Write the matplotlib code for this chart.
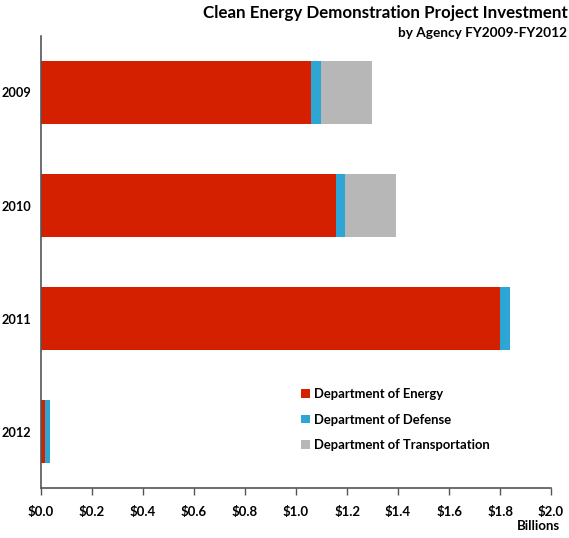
import numpy as np
import matplotlib
matplotlib.use("Agg")
import matplotlib.pyplot as plt

# values in billions
years = ['2009', '2010', '2011', '2012']
energy = [1.06, 1.155, 1.80, 0.016]
defense = [0.036, 0.037, 0.04, 0.02]
transport = [0.20, 0.20, 0.0, 0.0]
xticks = [0.0, 0.2, 0.4, 0.6, 0.8, 1.0, 1.2, 1.4, 1.6, 1.8, 2.0]

plt.rcParams['font.family'] = ['Lato', 'DejaVu Sans']

fig = plt.figure(figsize=(5.69, 5.38), dpi=100)
ax = fig.add_axes([0.0721, 0.0929, 0.8963, 0.8402])

y = np.arange(len(years))
h = 0.56
left2 = np.array(energy)
left3 = left2 + np.array(defense)
ax.barh(y, energy, height=h, color='#d52000', label='Department of Energy')
ax.barh(y, defense, left=left2, height=h, color='#2ea6d5', label='Department of Defense')
ax.barh(y, transport, left=left3, height=h, color='#b7b7b7', label='Department of Transportation')

ax.set_ylim(3.5, -0.5)
ax.set_xlim(0, 2.0)
ax.set_yticks(y)
ax.set_yticklabels(years, fontweight='bold', fontsize=9.2)
ax.tick_params(axis='y', length=0, pad=7)
ax.set_xticks(xticks)
ax.set_xticklabels(['$%.1f' % v for v in xticks], fontweight='bold', fontsize=9.5)
ax.tick_params(axis='x', length=5, width=1, color='#555555', direction='out', pad=8)
for s in ['top', 'right']:
    ax.spines[s].set_visible(False)
for s in ['left', 'bottom']:
    ax.spines[s].set_color('#555555')
    ax.spines[s].set_linewidth(1.2)

fig.text(0.985, 0.012, 'Billions', ha='right', va='bottom', fontweight='bold', fontsize=9.5)

fig.text(0.997, 0.975, 'Clean Energy Demonstration Project Investment', ha='right', va='center',
         fontweight='bold', fontsize=12.2)
fig.text(0.997, 0.938, 'by Agency FY2009-FY2012', ha='right', va='center',
         fontweight='bold', fontsize=9.8)

leg = ax.legend(loc='upper left', bbox_to_anchor=(0.497, 0.236), frameon=False, borderpad=0,
                handlelength=0.65, handleheight=0.65, handletextpad=0.35, labelspacing=1.05,
                prop={'weight': 'bold', 'size': 9.4})

fig.savefig('out.png', dpi=100)
